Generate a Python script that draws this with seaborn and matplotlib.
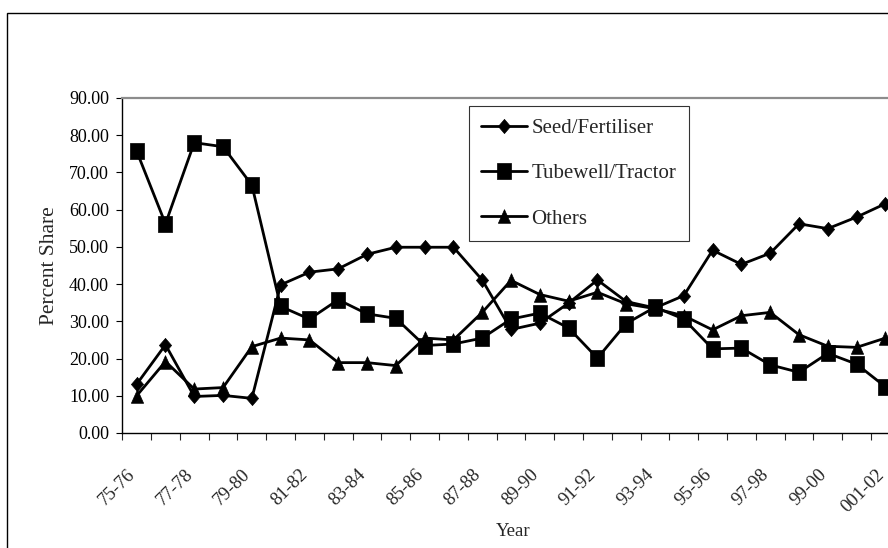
import matplotlib
matplotlib.use("Agg")
import matplotlib.pyplot as plt
from matplotlib.patches import Rectangle
from matplotlib.transforms import ScaledTranslation
import seaborn as sns
import pandas as pd
import numpy as np

years = ['75-76', '76-77', '77-78', '78-79', '79-80', '80-81', '81-82', '82-83',
         '83-84', '84-85', '85-86', '86-87', '87-88', '88-89', '89-90', '90-91',
         '91-92', '92-93', '93-94', '94-95', '95-96', '96-97', '97-98', '98-99',
         '99-00', '000-01', '001-02']

seed = [13.1, 23.7, 9.8, 10.1, 9.3, 39.8, 43.2, 44.1, 48.0, 49.9, 49.9, 49.9,
        41.1, 27.8, 29.5, 34.9, 41.1, 35.3, 33.6, 36.9, 49.1, 45.3, 48.3, 56.2,
        54.9, 58.0, 61.6]
tube = [75.7, 56.2, 78.0, 76.9, 66.6, 34.0, 30.6, 35.8, 32.0, 30.8, 23.5, 23.9,
        25.5, 30.6, 32.2, 28.2, 20.1, 29.4, 33.8, 30.6, 22.6, 22.8, 18.3, 16.3,
        21.4, 18.5, 12.4]
others = [10.0, 19.2, 11.8, 12.2, 23.2, 25.5, 25.0, 18.9, 18.9, 18.1, 25.5, 25.0,
          32.4, 41.0, 37.2, 35.4, 37.8, 34.7, 33.4, 31.5, 27.7, 31.5, 32.4, 26.4,
          23.3, 23.0, 25.5]

series_names = ['Seed/Fertiliser', 'Tubewell/Tractor', 'Others']
yticks = [0, 10, 20, 30, 40, 50, 60, 70, 80, 90]

sns.set_style('white')
plt.rcParams['font.family'] = ['Liberation Serif', 'DejaVu Serif']

idx = np.arange(len(years))
df = pd.DataFrame({
    'x': np.tile(idx, 3),
    'value': seed + tube + others,
    'series': np.repeat(series_names, len(years)),
})

fig = plt.figure(figsize=(8.88, 5.48), dpi=100)
ax = fig.add_axes([0.1377, 0.2099, 0.908, 0.6113])

# slightly tall marker shapes, as in the reference
diamond = [(0, 0.5), (0.43, 0), (0, -0.5), (-0.43, 0), (0, 0.5)]
square = [(-0.43, -0.5), (0.43, -0.5), (0.43, 0.5), (-0.43, 0.5), (-0.43, -0.5)]
triangle = [(0, 0.5), (0.45, -0.5), (-0.45, -0.5), (0, 0.5)]
markers = {'Seed/Fertiliser': (diamond, 10.2), 'Tubewell/Tractor': (square, 11.0),
           'Others': (triangle, 9.8)}
for name in series_names:
    sub = df[df['series'] == name]
    m, ms = markers[name]
    sns.lineplot(data=sub, x='x', y='value', ax=ax, color='black', lw=2.0,
                 marker=m, markersize=ms, markeredgecolor='black',
                 markeredgewidth=0.5, markerfacecolor='black', label=name,
                 clip_on=False)

ax.set_xlim(-0.5, 27.5)
ax.set_ylim(0, 90)

# y axis
ax.set_yticks(yticks)
ax.set_yticklabels([f'{v:.2f}' for v in yticks])
ax.tick_params(axis='y', direction='out', length=4.5, width=0.8, pad=5,
               labelsize=13, left=True, colors='black')

# x axis: ticks at category boundaries, labels at every other category
ax.set_xticks(np.arange(-0.5, 28.0, 1.0))
ax.set_xticklabels([])
ax.tick_params(axis='x', which='major', direction='out', length=5, width=0.8,
               bottom=True)
ax.set_xticks(idx[::2], [years[i] for i in idx[::2]], minor=True)
ax.tick_params(axis='x', which='minor', length=0, pad=28, labelsize=13.5)
shift = ScaledTranslation(-4 / 100, 0, fig.dpi_scale_trans)
for lbl in ax.get_xticklabels(minor=True):
    lbl.set_rotation(45)
    lbl.set_ha('right')
    lbl.set_va('center')
    lbl.set_rotation_mode('anchor')
    lbl.set_transform(lbl.get_transform() + shift)

ax.set_xlabel('Year', fontsize=13.5)
ax.xaxis.set_label_coords(0.4845, -0.27)
ax.set_ylabel('Percent Share', fontsize=15.5)
ax.yaxis.set_label_coords(-0.079, 0.5)

for s in ['left', 'bottom']:
    ax.spines[s].set_color('black')
    ax.spines[s].set_linewidth(1.0)
ax.spines['top'].set_color('#8c8c8c')
ax.spines['top'].set_linewidth(1.6)
ax.spines['right'].set_visible(False)
ax.grid(False)

leg = ax.legend(loc='upper left', bbox_to_anchor=(0.43, 0.976), borderaxespad=0,
                fontsize=15, frameon=True, fancybox=False, edgecolor='black',
                handlelength=2.2, handletextpad=0.2, labelspacing=1.23,
                borderpad=0.6)
leg.get_frame().set_linewidth(0.8)

# outer chart frame
fig.patches.append(Rectangle((0.0079, -0.2), 1.5, 0.9763 + 0.2,
                             transform=fig.transFigure, fill=False,
                             edgecolor='black', linewidth=1.0))

fig.savefig('out.png', dpi=100)
